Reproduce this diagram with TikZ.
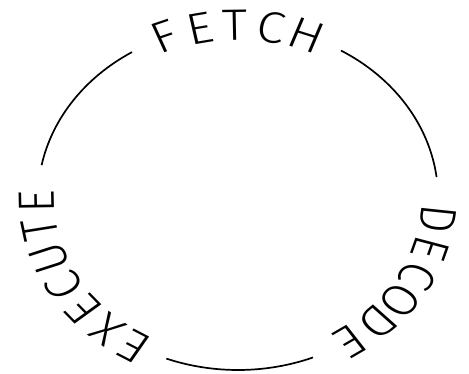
\documentclass[tikz,border=0pt]{standalone}
\usepackage{fontspec}
\usepackage{tikz}
\newfontfamily\plotfont{Fira Sans Light}

\begin{document}
\begin{tikzpicture}[
          x=1pt, y=1pt,
          letter/.style={inner sep=0pt, font=\plotfont\fontsize{44}{44}\selectfont, transform shape},
          ring/.style={line width=1.7pt}
        ]
        \useasboundingbox (0,0) rectangle (469,373);
        \begin{scope}[shift={(238,175)}, xscale=1.163]
          \foreach \ch/\t [count=\k] in {F/111.5, E/101, T/91, C/80.5, H/70}
            \node[letter, rotate=\t-90] (fetch\k) at (\t:173) {\ch};
          \foreach \ch/\t [count=\k] in {D/-7, E/-17, C/-27, O/-36.5, D/-46, E/-56}
            \node[letter, rotate=\t-90] (decode\k) at (\t:173) {\ch};
          \foreach \ch/\t [count=\k] in {E/239, X/229.5, E/220, C/210.5, U/200.5, T/190.5, E/181}
            \node[letter, rotate=\t-90] (execute\k) at (\t:173) {\ch};
          \coordinate (fe) at (59:172);
          \coordinate (de) at (-68:172);
          \coordinate (ex) at (169:172);
          \draw[ring] (fe) arc[start angle=59, end angle=7, radius=172];
          \draw[ring] (de) arc[start angle=-68, end angle=-111, radius=172];
          \draw[ring] (ex) arc[start angle=169, end angle=122, radius=172];
        \end{scope}
      \end{tikzpicture}
\end{document}
